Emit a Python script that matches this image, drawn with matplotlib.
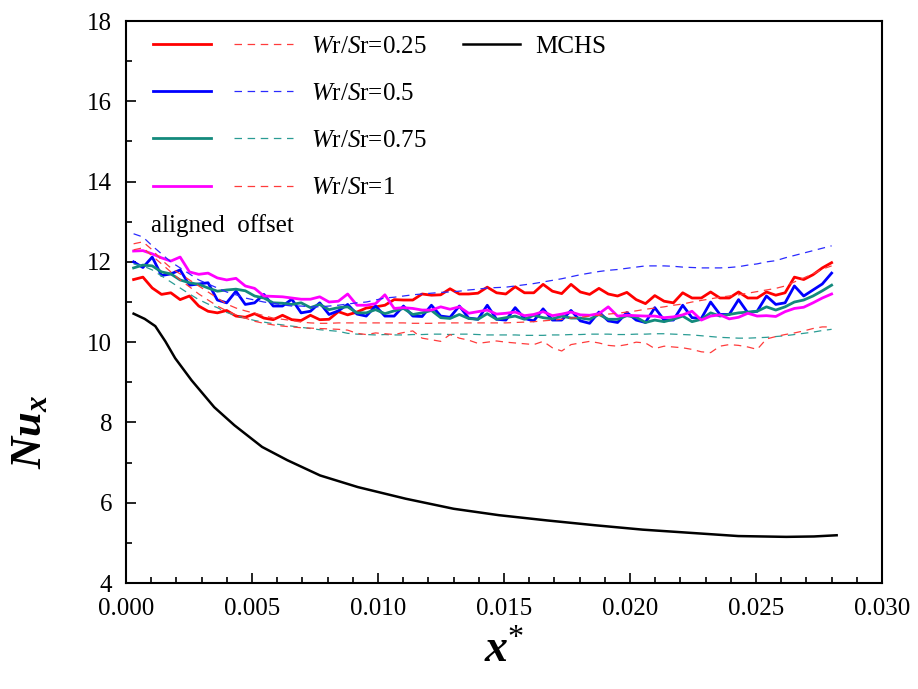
import numpy as np
import matplotlib
matplotlib.use('Agg')
import matplotlib.pyplot as plt
from matplotlib.lines import Line2D
from matplotlib.legend_handler import HandlerTuple
from matplotlib.ticker import MultipleLocator

plt.rcParams['font.family'] = 'Liberation Serif'
plt.rcParams['mathtext.fontset'] = 'custom'
plt.rcParams['mathtext.rm'] = 'Liberation Serif'
plt.rcParams['mathtext.it'] = 'Liberation Serif:italic'
plt.rcParams['mathtext.bf'] = 'Liberation Serif:bold:italic'

# sampling positions along the channel (x*)
xs = np.linspace(0.0003, 0.0280, 76)

# aligned ribs (solid)
nu_al_025 = [11.56, 11.62, 11.35, 11.19, 11.23, 11.06, 11.15, 10.9, 10.77, 10.73,
             10.79, 10.65, 10.62, 10.71, 10.6, 10.56, 10.67, 10.56, 10.54, 10.67,
             10.56, 10.57, 10.76, 10.68, 10.75, 10.85, 10.88, 10.92, 11.06, 11.05,
             11.05, 11.2, 11.17, 11.18, 11.33, 11.2, 11.2, 11.22, 11.37, 11.23,
             11.2, 11.38, 11.23, 11.23, 11.44, 11.27, 11.21, 11.44, 11.25, 11.19,
             11.34, 11.2, 11.15, 11.24, 11.06, 10.96, 11.16, 11.02, 10.98, 11.23,
             11.1, 11.1, 11.25, 11.1, 11.1, 11.25, 11.1, 11.1, 11.25, 11.17,
             11.23, 11.62, 11.56, 11.68, 11.85, 11.98]
nu_al_05 = [12.0, 11.86, 12.12, 11.66, 11.7, 11.8, 11.42, 11.45, 11.48, 11.05,
            10.98, 11.27, 10.94, 10.98, 11.19, 10.9, 10.9, 11.07, 10.73, 10.77,
            10.98, 10.69, 10.78, 10.94, 10.7, 10.65, 10.9, 10.65, 10.65, 10.9,
            10.65, 10.64, 10.92, 10.65, 10.62, 10.9, 10.6, 10.57, 10.92, 10.57,
            10.55, 10.86, 10.59, 10.53, 10.83, 10.55, 10.55, 10.79, 10.53, 10.47,
            10.75, 10.53, 10.49, 10.74, 10.55, 10.49, 10.86, 10.55, 10.55, 10.92,
            10.61, 10.59, 11.0, 10.69, 10.69, 11.06, 10.73, 10.77, 11.15, 10.94,
            10.98, 11.4, 11.15, 11.3, 11.45, 11.72]
nu_al_075 = [11.85, 11.92, 11.9, 11.75, 11.7, 11.55, 11.48, 11.44, 11.35, 11.27,
             11.3, 11.32, 11.28, 11.15, 11.1, 10.98, 10.97, 10.94, 10.98, 10.86,
             10.94, 10.81, 10.86, 10.88, 10.73, 10.73, 10.81, 10.71, 10.78, 10.84,
             10.69, 10.73, 10.79, 10.61, 10.59, 10.69, 10.59, 10.57, 10.71, 10.57,
             10.61, 10.65, 10.57, 10.67, 10.61, 10.58, 10.65, 10.6, 10.6, 10.57,
             10.69, 10.57, 10.57, 10.66, 10.62, 10.49, 10.55, 10.51, 10.57, 10.65,
             10.51, 10.57, 10.73, 10.65, 10.69, 10.73, 10.75, 10.77, 10.88, 10.8,
             10.88, 11.0, 11.05, 11.15, 11.28, 11.42]
nu_al_1 = [12.27, 12.28, 12.2, 12.1, 12.02, 12.12, 11.75, 11.69, 11.72, 11.6,
           11.55, 11.59, 11.4, 11.34, 11.15, 11.14, 11.13, 11.1, 11.07, 11.07,
           11.13, 11.0, 11.02, 11.2, 10.92, 10.92, 10.96, 11.18, 10.84, 10.86,
           10.84, 10.8, 10.8, 10.88, 10.82, 10.88, 10.72, 10.76, 10.8, 10.7,
           10.72, 10.75, 10.66, 10.69, 10.76, 10.66, 10.7, 10.75, 10.68, 10.67,
           10.71, 10.88, 10.65, 10.67, 10.66, 10.65, 10.65, 10.61, 10.63, 10.68,
           10.77, 10.55, 10.65, 10.68, 10.58, 10.62, 10.72, 10.65, 10.66, 10.64,
           10.76, 10.84, 10.87, 10.98, 11.1, 11.2]

# offset ribs (dashed)
nu_off_025 = [12.45, 12.5, 12.3, 12.05, 11.85, 11.7, 11.55, 11.4, 11.25, 11.1,
              10.95, 10.85, 10.78, 10.72, 10.66, 10.6, 10.57, 10.54, 10.5, 10.48,
              10.47, 10.47, 10.48, 10.48, 10.48, 10.48, 10.48, 10.48, 10.48, 10.48,
              10.47, 10.47, 10.47, 10.48, 10.48, 10.48, 10.48, 10.48, 10.48, 10.48,
              10.48, 10.49, 10.5, 10.51, 10.53, 10.55, 10.57, 10.6, 10.62, 10.65,
              10.67, 10.7, 10.72, 10.75, 10.78, 10.82, 10.85, 10.88, 10.92, 10.95,
              11.0, 11.04, 11.08, 11.12, 11.15, 11.18, 11.22, 11.26, 11.3, 11.34,
              11.4, 11.5, 11.6, 11.7, 11.82, 11.9]
nu_off_05 = [12.7, 12.62, 12.4, 12.2, 12.0, 11.85, 11.7, 11.55, 11.45, 11.35,
             11.25, 11.18, 11.1, 11.05, 11.0, 10.97, 10.93, 10.9, 10.9, 10.88,
             10.88, 10.9, 10.92, 10.95, 10.98, 11.0, 11.05, 11.1, 11.12, 11.15,
             11.18, 11.2, 11.22, 11.24, 11.25, 11.27, 11.3, 11.32, 11.35, 11.36,
             11.37, 11.4, 11.43, 11.46, 11.5, 11.54, 11.58, 11.63, 11.68, 11.72,
             11.76, 11.79, 11.81, 11.84, 11.87, 11.9, 11.9, 11.9, 11.89, 11.87,
             11.86, 11.85, 11.85, 11.85, 11.86, 11.88, 11.92, 11.95, 12.0, 12.03,
             12.1, 12.16, 12.22, 12.28, 12.34, 12.4]
nu_off_075 = [11.95, 11.9, 11.8, 11.65, 11.5, 11.35, 11.2, 11.06, 10.95, 10.86,
              10.74, 10.66, 10.6, 10.54, 10.5, 10.46, 10.43, 10.4, 10.37, 10.34,
              10.31, 10.29, 10.27, 10.22, 10.2, 10.19, 10.18, 10.19, 10.18, 10.18,
              10.19, 10.19, 10.2, 10.2, 10.19, 10.2, 10.2, 10.19, 10.18, 10.18,
              10.18, 10.18, 10.17, 10.17, 10.17, 10.18, 10.18, 10.19, 10.19, 10.2,
              10.2, 10.2, 10.19, 10.19, 10.2, 10.2, 10.21, 10.21, 10.2, 10.19,
              10.18, 10.16, 10.14, 10.12, 10.11, 10.1, 10.1, 10.11, 10.12, 10.14,
              10.16, 10.19, 10.22, 10.25, 10.29, 10.32]
nu_off_1 = [12.3, 12.35, 12.15, 11.95, 11.75, 11.55, 11.38, 11.2, 11.05, 10.9,
            10.78, 10.68, 10.6, 10.52, 10.47, 10.43, 10.4, 10.38, 10.36, 10.35,
            10.34, 10.33, 10.32, 10.3, 10.22, 10.19, 10.23, 10.21, 10.19, 10.24,
            10.28, 10.1, 10.06, 10.02, 10.19, 10.1, 10.05, 9.97, 10.0, 10.03,
            10.0, 9.98, 9.96, 9.94, 10.02, 9.86, 9.78, 9.94, 9.98, 10.02,
            9.98, 9.92, 9.9, 9.94, 10.0, 9.98, 9.84, 9.9, 9.88, 9.86,
            9.82, 9.76, 9.74, 9.9, 9.94, 9.92, 9.88, 9.82, 10.08, 10.14,
            10.19, 10.23, 10.28, 10.34, 10.38, 10.38]

# smooth microchannel heat sink
mchs_x = [0.0003, 0.00074, 0.00116, 0.00156, 0.00195, 0.0026, 0.0035, 0.0043, 0.0054,
          0.0064, 0.0077, 0.0092, 0.0111, 0.0130, 0.0148, 0.0167, 0.0186, 0.0205,
          0.0224, 0.0243, 0.0262, 0.0273, 0.0282]
mchs_y = [10.71, 10.58, 10.4, 10.02, 9.6, 9.05, 8.38, 7.93, 7.39,
          7.06, 6.68, 6.39, 6.1, 5.85, 5.69, 5.56, 5.44, 5.33,
          5.25, 5.17, 5.15, 5.16, 5.19]

labels = [r'$\mathit{W}$r/$\mathit{S}$r=0.25', r'$\mathit{W}$r/$\mathit{S}$r=0.5',
          r'$\mathit{W}$r/$\mathit{S}$r=0.75', r'$\mathit{W}$r/$\mathit{S}$r=1']

fig = plt.figure(figsize=(9.18, 6.89), dpi=100)
ax = fig.add_axes([0.1373, 0.1538, 0.8235, 0.8157])

lw_s = 2.0
lw_d = 0.9
dash = (6, 4.5)
c_al = ['#ff0000', '#0000ff', '#138a7c', '#ff00ff']
c_off = ['#ff3b3b', '#2a2aff', '#2a9c94', '#ff3b3b']

solid = []
dashed = []
for ys, c in zip([nu_al_025, nu_al_05, nu_al_075, nu_al_1], c_al):
    solid += ax.plot(xs, ys, color=c, lw=lw_s)
for ys, c in zip([nu_off_025, nu_off_05, nu_off_075, nu_off_1], c_off):
    dashed += ax.plot(xs, ys, color=c, lw=lw_d, dashes=dash)
mchs, = ax.plot(mchs_x, mchs_y, color='black', lw=1.8)

ax.set_xlim(0, 0.030)
ax.set_ylim(4, 18)
ax.xaxis.set_major_locator(MultipleLocator(0.005))
ax.xaxis.set_minor_locator(MultipleLocator(0.001))
ax.yaxis.set_major_locator(MultipleLocator(2))
ax.yaxis.set_minor_locator(MultipleLocator(1))
ax.xaxis.set_major_formatter(matplotlib.ticker.FormatStrFormatter('%.3f'))
ax.tick_params(which='both', direction='in', top=False, right=False,
               labelsize=18, width=1.2)
ax.tick_params(which='major', length=7)
ax.tick_params(axis='x', pad=11)
ax.tick_params(axis='y', pad=10)
ax.tick_params(which='minor', length=4)
for s in ax.spines.values():
    s.set_linewidth(1.5)

ax.set_xlabel(r'$\mathbf{x}^{*}$', fontsize=33)
ax.set_ylabel(r'$\mathbf{Nu}_{\mathbf{x}}$', fontsize=32)
ax.xaxis.set_label_coords(0.5, -0.082)
ax.yaxis.set_label_coords(-0.101, 0.27)

handles = [(Line2D([], [], color=a.get_color(), lw=lw_s),
            Line2D([], [], color=b.get_color(), lw=lw_d, dashes=dash))
           for a, b in zip(solid, dashed)]
leg = ax.legend(handles, labels, handler_map={tuple: HandlerTuple(ndivide=None, pad=0.95)},
                loc='upper left', bbox_to_anchor=(0.012, 1.006), frameon=False,
                fontsize=18, handlelength=5.6, handletextpad=0.75, labelspacing=0.99,
                borderpad=0.2)
ax.add_artist(leg)
ax.legend([Line2D([], [], color='black', lw=1.8)], ['MCHS'], loc='upper left',
          bbox_to_anchor=(0.422, 1.006), frameon=False, fontsize=18,
          handlelength=2.3, handletextpad=0.6, borderpad=0.2)

ax.text(0.033, 0.615, 'aligned  offset', transform=ax.transAxes, fontsize=18,
        ha='left', va='bottom')

fig.savefig('out.png', dpi=100)
